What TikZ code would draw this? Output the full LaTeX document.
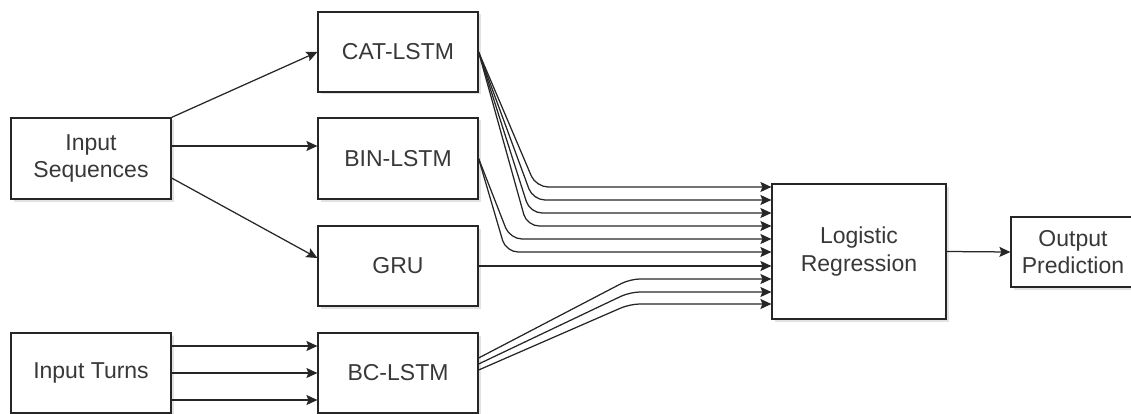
\documentclass[tikz,border=0pt]{standalone}
\usepackage{fontspec}
\setmainfont{Liberation Sans}
\usetikzlibrary{arrows.meta,shadows}
\begin{document}
\begin{tikzpicture}[x=1pt,y=-1pt,
  box/.style={draw=black!85, line width=1.2pt, fill=white, align=center, inner sep=0pt,
    font=\fontsize{23}{27.5}\selectfont, text=black!78,
    drop shadow={shadow xshift=2.5pt, shadow yshift=-2.5pt, opacity=0.25, fill=black!45}},
  conn/.style={draw=black!85, line width=1.25pt, -{Stealth[length=11pt,width=10pt,inset=2pt]}},
  sharpbend/.style={rounded corners=12pt},
  softbend/.style={rounded corners=10pt}]
\useasboundingbox (0,0) rectangle (1131,414);

\node[box, minimum width=160pt, minimum height=81pt] (inseq) at (91,158.5) {Input\\Sequences};
\node[box, minimum width=160pt, minimum height=80pt] (cat) at (398,52) {CAT-LSTM};
\node[box, minimum width=160pt, minimum height=81pt] (bin) at (398,158.5) {BIN-LSTM};
\node[box, minimum width=160pt, minimum height=80pt] (gru) at (398,266) {GRU};
\node[box, minimum width=160pt, minimum height=80pt] (inturn) at (91,373) {Input Turns};
\node[box, minimum width=160pt, minimum height=80pt] (bc) at (398,373) {BC-LSTM};
\node[box, minimum width=174pt, minimum height=135pt] (lr) at (859,251.5) {Logistic\\Regression};
\node[box, minimum width=124pt, minimum height=70pt] (out) at (1073,252) {Output\\Prediction};

% input sequences
\draw[conn] (inseq.north east) -- (cat.west);
\draw[conn] ([yshift=12.5pt]inseq.east) -- ([yshift=12.5pt]bin.west);
\draw[conn] ([yshift=-19.5pt]inseq.east) -- ([yshift=8pt]gru.west);

% input turns
\foreach \d in {27,0,-27}
  \draw[conn] ([yshift=\d pt]inturn.east) -- ([yshift=\d pt]bc.west);

% CAT-LSTM
\draw[conn,sharpbend] (cat.east) -- (536,187) -- (lr.west |- 0,187);
\draw[conn,sharpbend] (cat.east) -- (533,200) -- (lr.west |- 0,200);
\draw[conn,sharpbend] (cat.east) -- (530,213) -- (lr.west |- 0,213);
\draw[conn,sharpbend] (cat.east) -- (527,226) -- (lr.west |- 0,226);

% BIN-LSTM
\draw[conn,sharpbend] (bin.east) -- (510,239) -- (lr.west |- 0,239);
\draw[conn,sharpbend] (bin.east) -- (506,252) -- (lr.west |- 0,252);

% GRU
\draw[conn] (gru.east) -- (lr.west |- gru.east);

% BC-LSTM
\draw[conn,softbend] ([yshift=15pt]bc.east) -- (630,279) -- (lr.west |- 0,279);
\draw[conn,softbend] ([yshift=9pt]bc.east) -- (630,292) -- (lr.west |- 0,292);
\draw[conn,softbend] ([yshift=3pt]bc.east) -- (630,304) -- (lr.west |- 0,304);

% output
\draw[conn] (lr.east) -- (out.west);
\end{tikzpicture}
\end{document}
